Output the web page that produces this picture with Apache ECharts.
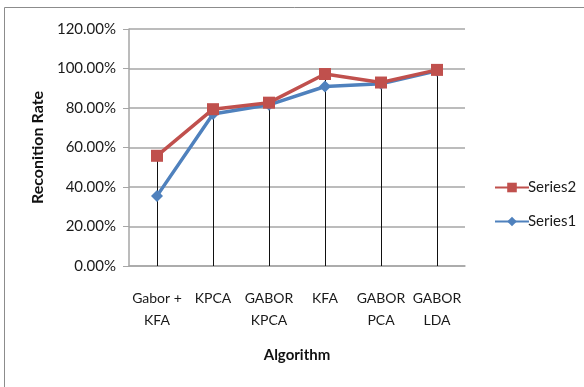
<!DOCTYPE html>
<html>
<head>
<meta charset="utf-8">
<script src="https://cdn.jsdelivr.net/npm/echarts@6/dist/echarts.min.js"></script>
<style>
  html, body { margin: 0; padding: 0; background: #fff; }
  #chart { width: 584px; height: 387px; }
</style>
</head>
<body>
<div id="chart"></div>
<script>
// Recognition rate (%) per algorithm
const categories = ['Gabor +\nKFA', 'KPCA', 'GABOR\nKPCA', 'KFA', 'GABOR\nPCA', 'GABOR\nLDA'];
const series1 = [35.5, 77.0, 81.6, 90.9, 92.3, 98.8];
const series2 = [55.8, 79.4, 82.7, 97.2, 92.9, 99.3];
const yTicks = { min: 0, max: 120, interval: 20 };

// Drop lines run from the highest point of each category down to the axis
const dropData = categories.map((c, i) => [i, Math.max(series1[i], series2[i])]);

const FONT = 'Lato';
const chart = echarts.init(document.getElementById('chart'), null, { renderer: 'canvas' });

chart.setOption({
  animation: false,
  backgroundColor: '#fff',
  textStyle: { fontFamily: FONT },
  graphic: [{
    type: 'rect',
    shape: { x: 4.5, y: 7.5, width: 700, height: 500 },
    style: { fill: 'none', stroke: '#8c8c8c', lineWidth: 1 },
    silent: true
  }],
  grid: { left: 129, right: 119, top: 29, bottom: 121 },
  legend: {
    orient: 'vertical',
    left: 489,
    top: 175,
    itemWidth: 34,
    itemHeight: 12,
    itemGap: 19,
    data: ['Series2', 'Series1'],
    textStyle: { fontFamily: FONT, fontSize: 15, color: '#1a1a1a', padding: [0, 0, 0, -6] }
  },
  xAxis: {
    type: 'category',
    data: categories,
    boundaryGap: true,
    name: 'Algorithm',
    nameLocation: 'middle',
    nameGap: 82,
    nameTextStyle: { fontFamily: FONT, fontSize: 15, fontWeight: 'bold', color: '#111' },
    axisLine: { lineStyle: { color: '#a6a6a6', width: 1.5 } },
    axisTick: { show: false },
    axisLabel: { fontFamily: FONT, fontSize: 14, color: '#1a1a1a', lineHeight: 22, margin: 21, interval: 0 },
    splitLine: { show: false }
  },
  yAxis: {
    type: 'value',
    min: yTicks.min,
    max: yTicks.max,
    interval: yTicks.interval,
    name: 'Reconition Rate',
    nameLocation: 'middle',
    nameRotate: 90,
    nameGap: 83,
    nameTextStyle: { fontFamily: FONT, fontSize: 16, fontWeight: 'bold', color: '#111' },
    axisLine: { show: true, lineStyle: { color: '#a6a6a6', width: 1.5 } },
    axisTick: { show: true, inside: false, length: 6, lineStyle: { color: '#a6a6a6' } },
    axisLabel: {
      fontFamily: FONT, fontSize: 15, color: '#1a1a1a', margin: 13,
      formatter: v => v.toFixed(2) + '%'
    },
    splitLine: { show: true, lineStyle: { color: '#a6a6a6', width: 1.5 } }
  },
  series: [
    {
      type: 'custom',
      name: 'drop',
      data: dropData,
      z: 1,
      silent: true,
      renderItem: (params, api) => {
        const top = api.coord([api.value(0), api.value(1)]);
        const bottom = api.coord([api.value(0), 0]);
        return {
          type: 'line',
          shape: { x1: Math.round(top[0]) + 0.5, y1: top[1], x2: Math.round(bottom[0]) + 0.5, y2: bottom[1] },
          style: { stroke: '#111', lineWidth: 1 }
        };
      }
    },
    {
      name: 'Series1',
      type: 'line',
      data: series1,
      z: 3,
      symbol: 'diamond',
      symbolSize: 12,
      lineStyle: { color: '#4F81BD', width: 3.5 },
      itemStyle: { color: '#4F81BD' }
    },
    {
      name: 'Series2',
      type: 'line',
      data: series2,
      z: 4,
      symbol: 'rect',
      symbolSize: 12,
      lineStyle: { color: '#C0504D', width: 3.5 },
      itemStyle: { color: '#C0504D' }
    }
  ]
});
</script>
</body>
</html>
